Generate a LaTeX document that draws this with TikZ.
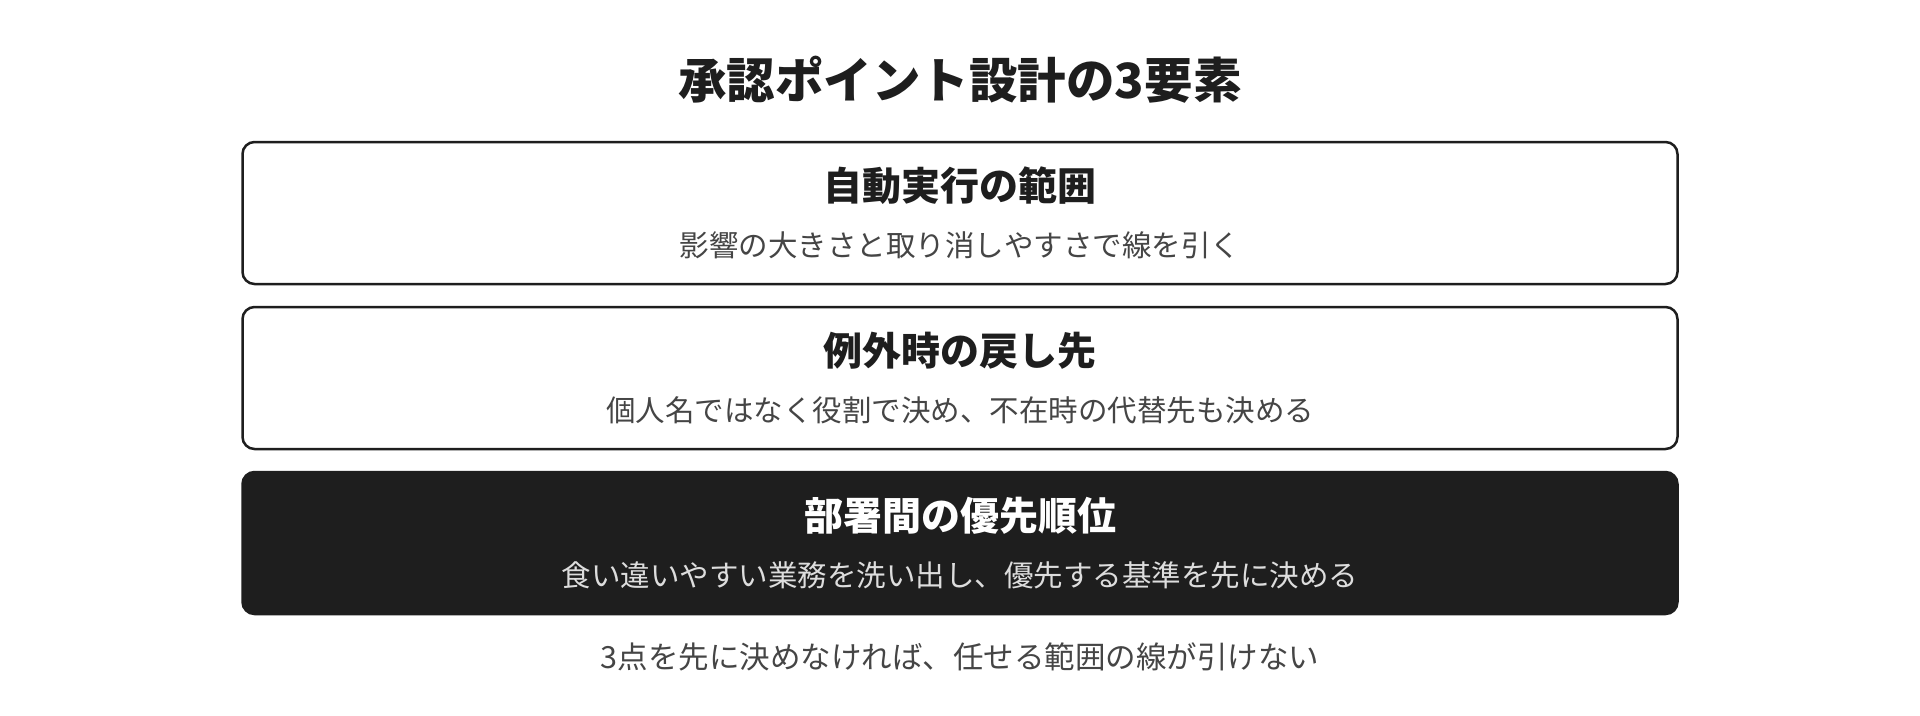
\documentclass[tikz,border=0pt]{standalone}
\usepackage{fontspec}
\setmainfont{Noto Sans CJK JP}
\usetikzlibrary{positioning}
\definecolor{ink}{HTML}{1E1E1E}
\definecolor{note}{HTML}{454545}
\definecolor{pale}{HTML}{DDDDDD}
\tikzset{
  card/.style={draw=ink, line width=2.5pt, rounded corners=12pt,
    minimum width=1435pt, minimum height=142pt, inner sep=0pt},
  darkcard/.style={card, fill=ink},
  cardhead/.style={font=\fontsize{39}{46}\selectfont\bfseries, text=ink},
  cardnote/.style={font=\fontsize{29.5}{36}\selectfont, text=note},
}
\begin{document}
\begin{tikzpicture}[x=1pt,y=-1pt]
                \useasboundingbox[fill=white] (0,0) rectangle (1920,715);
                %% heading
                \node[font=\fontsize{48.5}{58}\selectfont\bfseries, text=ink] (heading) at (960,80) {承認ポイント設計の3要素};
                %% cards
                \node[card] (scope) at (960,213) {};
                \node[card, below=20.5pt of scope] (fallback) {};
                \node[darkcard, below=20.5pt of fallback] (priority) {};
                \node[cardhead] (scopehead) at ([yshift=27pt]scope.center) {自動実行の範囲};
                \node[cardnote] (scopenote) at ([yshift=-32pt]scope.center) {影響の大きさと取り消しやすさで線を引く};
                \node[cardhead] (fallbackhead) at ([yshift=27pt]fallback.center) {例外時の戻し先};
                \node[cardnote] (fallbacknote) at ([yshift=-32pt]fallback.center) {個人名ではなく役割で決め、不在時の代替先も決める};
                \node[cardhead, text=white] (priorityhead) at ([yshift=27pt]priority.center) {部署間の優先順位};
                \node[cardnote, text=pale] (prioritynote) at ([yshift=-32pt]priority.center) {食い違いやすい業務を洗い出し、優先する基準を先に決める};
                %% summary
                \node[cardnote, font=\fontsize{30.5}{36}\selectfont] (summary) at (960,657) {3点を先に決めなければ、任せる範囲の線が引けない};
            \end{tikzpicture}
\end{document}
